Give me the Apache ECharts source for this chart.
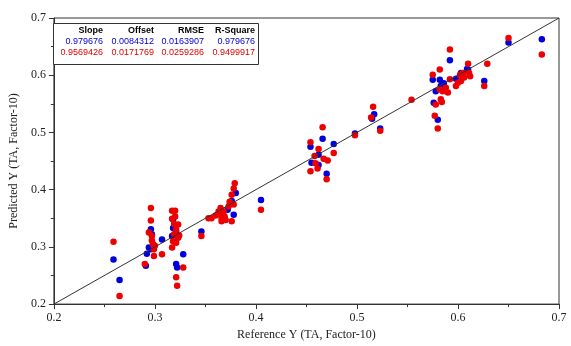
<!DOCTYPE html>
<html><head><meta charset="utf-8">
<script src="https://cdn.jsdelivr.net/npm/echarts@6/dist/echarts.min.js"></script>
<style>html,body{margin:0;padding:0;background:#fff}#c{width:571px;height:346px}</style>
</head><body><div id="c"></div>
<script>
const xTicks = [0.2, 0.3, 0.4, 0.5, 0.6, 0.7];
const yTicks = [0.2, 0.3, 0.4, 0.5, 0.6, 0.7];
const statHeaders = ["Slope", "Offset", "RMSE", "R-Square"];
const blueStats = ["0.979676", "0.0084312", "0.0163907", "0.979676"];
const redStats = ["0.9569426", "0.0171769", "0.0259286", "0.9499917"];
const diagonal = [[0.2, 0.2], [0.7, 0.7]];
const bluePoints = [
[0.259,0.278],[0.265,0.242],
[0.296,0.331],[0.297,0.322],[0.294,0.299],[0.296,0.296],[0.292,0.288],[0.291,0.267],[0.307,0.313],
[0.318,0.348],[0.318,0.333],[0.321,0.327],[0.317,0.319],[0.328,0.287],[0.321,0.270],[0.322,0.264],
[0.346,0.327],[0.366,0.359],[0.372,0.365],[0.376,0.380],[0.380,0.394],[0.378,0.356],[0.405,0.382],
[0.466,0.489],[0.454,0.475],[0.477,0.480],[0.462,0.461],[0.455,0.447],[0.462,0.443],[0.470,0.428],[0.498,0.498],[0.517,0.532],[0.515,0.524],[0.523,0.507],
[0.592,0.626],[0.610,0.610],[0.626,0.590],[0.575,0.592],[0.582,0.592],[0.598,0.594],[0.586,0.586],[0.583,0.581],[0.578,0.572],[0.576,0.552],[0.580,0.522],[0.650,0.657],[0.683,0.663],[0.603,0.604],[0.609,0.611]
];
const redPoints = [
[0.259,0.309],[0.265,0.214],
[0.296,0.368],[0.296,0.346],[0.294,0.325],[0.297,0.319],[0.297,0.311],[0.299,0.296],[0.299,0.284],[0.290,0.270],[0.307,0.287],[0.298,0.305],[0.300,0.302],
[0.317,0.363],[0.320,0.363],[0.320,0.353],[0.317,0.349],[0.323,0.339],[0.321,0.330],[0.319,0.322],[0.323,0.316],[0.318,0.310],[0.321,0.307],[0.317,0.299],[0.328,0.264],[0.321,0.247],[0.322,0.232],[0.319,0.340],[0.324,0.320],
[0.346,0.319],[0.353,0.350],[0.356,0.350],[0.363,0.362],[0.365,0.356],[0.366,0.350],[0.365,0.368],[0.368,0.362],[0.366,0.345],[0.369,0.353],[0.373,0.371],[0.374,0.379],[0.376,0.391],[0.378,0.402],[0.379,0.411],[0.378,0.374],[0.376,0.345],[0.405,0.365],[0.360,0.355],[0.370,0.347],
[0.466,0.509],[0.454,0.483],[0.462,0.471],[0.477,0.464],[0.458,0.459],[0.467,0.454],[0.471,0.451],[0.459,0.446],[0.461,0.437],[0.454,0.432],[0.470,0.418],[0.498,0.495],[0.516,0.545],[0.514,0.526],[0.523,0.503],
[0.554,0.557],
[0.650,0.665],[0.683,0.636],[0.592,0.645],[0.629,0.620],[0.610,0.620],[0.626,0.581],[0.582,0.610],[0.575,0.601],[0.592,0.593],[0.602,0.601],[0.605,0.604],[0.611,0.604],[0.612,0.598],[0.606,0.596],[0.603,0.590],[0.600,0.587],[0.598,0.581],[0.588,0.578],[0.582,0.575],[0.585,0.572],[0.590,0.570],[0.583,0.558],[0.584,0.553],[0.578,0.549],[0.577,0.529],[0.580,0.507]
];

const chart = echarts.init(document.getElementById('c'), null, {renderer: 'canvas'});
const serif = '"Liberation Serif", "Times New Roman", serif';
const sans = '"Liberation Sans", Arial, sans-serif';
const colRight = [103, 154, 204, 255];
const rowY = [31, 42, 53];
const texts = [];
statHeaders.forEach((t, i) => texts.push({type: 'text', x: colRight[i], y: rowY[0], style: {text: t, align: 'right', verticalAlign: 'middle', font: 'bold 9px ' + sans, fill: '#000'}}));
blueStats.forEach((t, i) => texts.push({type: 'text', x: colRight[i], y: rowY[1], style: {text: t, align: 'right', verticalAlign: 'middle', font: '9px ' + sans, fill: '#0000cc'}}));
redStats.forEach((t, i) => texts.push({type: 'text', x: colRight[i], y: rowY[2], style: {text: t, align: 'right', verticalAlign: 'middle', font: '9px ' + sans, fill: '#e00000'}}));

const axisCommon = {
  type: 'value', min: 0.2, max: 0.7, interval: 0.1,
  axisLine: {show: true, lineStyle: {color: '#333', width: 1}},
  axisTick: {show: true, length: 5, lineStyle: {color: '#333'}},
  minorTick: {show: true, splitNumber: 2, length: 3, lineStyle: {color: '#333'}},
  splitLine: {show: false},
  axisLabel: {color: '#222', fontFamily: serif, fontSize: 12, formatter: v => v.toFixed(1)},
  nameLocation: 'middle',
  nameTextStyle: {color: '#222', fontFamily: serif, fontSize: 12}
};

chart.setOption({
  animation: false,
  grid: {left: 52, right: 12, top: 18, bottom: 39, show: true, borderColor: '#333', borderWidth: 1},
  xAxis: Object.assign({}, axisCommon, {name: 'Reference Y (TA, Factor-10)', nameGap: 22}),
  yAxis: Object.assign({}, axisCommon, {name: 'Predicted Y (TA, Factor-10)', nameGap: 30}),
  graphic: [{type: 'rect', shape: {x: 53.5, y: 23.5, width: 205, height: 41}, style: {fill: '#fff', stroke: '#333', lineWidth: 1}, z: 100}]
    .concat(texts.map(t => Object.assign(t, {z: 101}))),
  series: [
    {type: 'scatter', data: bluePoints, symbolSize: 6.5, itemStyle: {color: '#0000dd', opacity: 1}, z: 2},
    {type: 'scatter', data: redPoints, symbolSize: 6.5, itemStyle: {color: '#ee0000', opacity: 1}, z: 3},
    {type: 'line', data: diagonal, symbol: 'none', lineStyle: {color: '#333', width: 1}, z: 4}
  ]
});
</script></body></html>
